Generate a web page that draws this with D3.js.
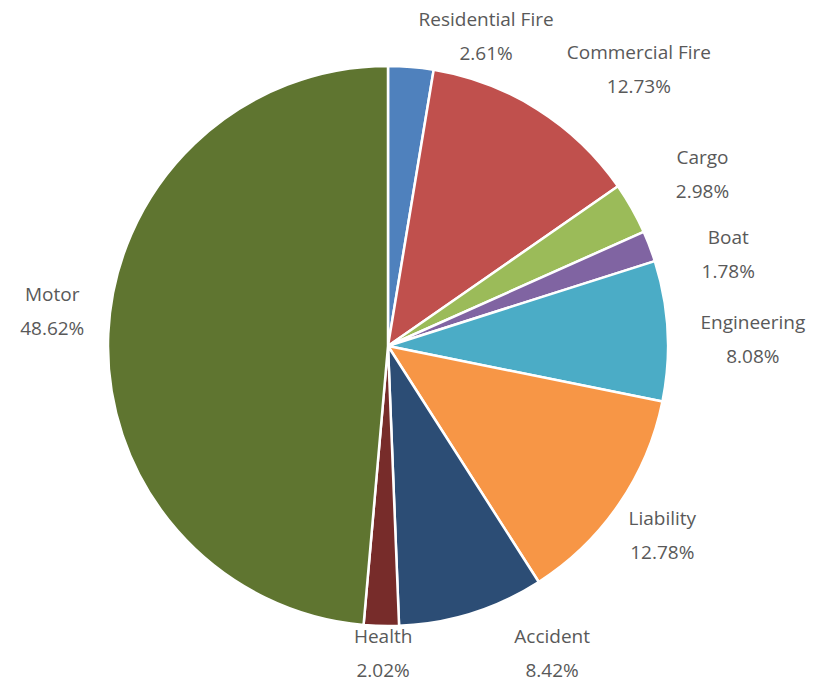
<!DOCTYPE html>
<html><head><meta charset="utf-8">
<script src="https://cdn.jsdelivr.net/npm/d3@7/dist/d3.min.js"></script>
<style>body{margin:0;background:#fff}</style>
</head><body><svg id="c" width="821" height="683"></svg>
<script>
const categories = ["Residential Fire","Commercial Fire","Cargo","Boat","Engineering","Liability","Accident","Health","Motor"];
const values = [2.61,12.73,2.98,1.78,8.08,12.78,8.42,2.02,48.62];
const colors = ["#4F81BD","#C0504D","#9BBB59","#8064A2","#4BACC6","#F79646","#2C4D75","#772C2A","#5F7530"];
// layout nudges for labels (Excel-style adjustments), pixels
const labelNudge = [[68,14],[52,-2],[30,-12],[35,24],[13,11],[-1,5],[63,-3],[3,-18],[-4,-21]];

const svg = d3.select("#c");
const cx = 388, cy = 346, r = 280, R = 300, lineGap = 34, blockH = 50;
const g = svg.append("g").attr("transform",`translate(${cx},${cy})`);
const pie = d3.pie().sort(null).value(d=>d);
const arcs = pie(values);
const arc = d3.arc().innerRadius(0).outerRadius(r);
g.selectAll("path").data(arcs).join("path")
  .attr("d",arc).attr("fill",(d,i)=>colors[i])
  .attr("stroke","#fff").attr("stroke-width",2.5).attr("stroke-linejoin","round");

const lab = g.selectAll("g.lab").data(arcs).join("g").attr("class","lab")
  .style("font-family","'Open Sans', 'Noto Sans', sans-serif").style("font-size","19px").attr("fill","#595959");
lab.append("text").attr("class","n").attr("text-anchor","middle").attr("dominant-baseline","central")
  .text((d,i)=>categories[i]);
lab.append("text").attr("class","p").attr("text-anchor","middle").attr("dominant-baseline","central")
  .text(d=>d.value.toFixed(2)+"%");
lab.each(function(d,i){
  const sel = d3.select(this);
  const w = Math.max(sel.select(".n").node().getComputedTextLength(), sel.select(".p").node().getComputedTextLength());
  const a = (d.startAngle+d.endAngle)/2;
  const s = Math.sin(a), c = Math.cos(a);
  const x = R*s + s*w/2 + labelNudge[i][0];
  const y = -R*c - c*blockH/2 + labelNudge[i][1];
  sel.select(".n").attr("x",x).attr("y",y-lineGap/2);
  sel.select(".p").attr("x",x).attr("y",y+lineGap/2);
});
</script></body></html>
